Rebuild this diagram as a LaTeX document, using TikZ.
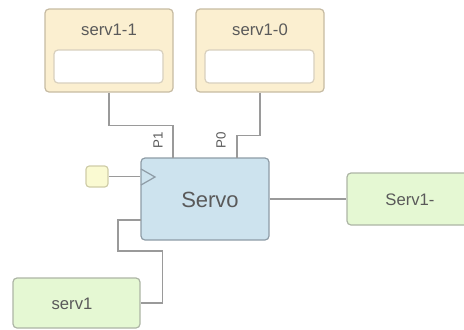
\documentclass[tikz,border=0pt]{standalone}
\usepackage{fontspec}
\setmainfont{Liberation Sans}
\definecolor{tanfill}{HTML}{FBEFD0}
\definecolor{tanborder}{HTML}{C6BBA2}
\definecolor{innerborder}{HTML}{D8D0BE}
\definecolor{servofill}{HTML}{CDE3EE}
\definecolor{servoborder}{HTML}{8E9CA6}
\definecolor{sqfill}{HTML}{FAFAD2}
\definecolor{sqborder}{HTML}{CFCDA8}
\definecolor{greenfill}{HTML}{E5F8D3}
\definecolor{greenborder}{HTML}{ADB5A5}
\definecolor{wire}{HTML}{9A9A9A}
\definecolor{txt}{HTML}{5A5A5A}
\tikzset{
  box/.style={draw, line width=0.9pt, rounded corners=3pt, inner sep=0pt},
  tanbox/.style={box, draw=tanborder, fill=tanfill, minimum width=96pt, minimum height=62.25pt},
  innerbox/.style={box, draw=innerborder, fill=white, minimum width=81.75pt, minimum height=24.75pt},
  servobox/.style={box, draw=servoborder, fill=servofill, minimum width=96pt, minimum height=61.5pt},
  greenbox/.style={box, draw=greenborder, fill=greenfill},
  sqbox/.style={box, rounded corners=2.5pt, draw=sqborder, fill=sqfill, minimum width=16.5pt, minimum height=15.75pt},
  lbl/.style={font=\fontsize{12.5}{14}\selectfont, text=txt, inner sep=0pt},
  portlbl/.style={font=\fontsize{10}{11}\selectfont, text=txt, inner sep=0pt, rotate=90},
  wireline/.style={draw=wire, line width=0.9pt}
}
\begin{document}
\begin{tikzpicture}[x=0.75pt, y=-0.75pt]
\useasboundingbox (0,0) rectangle (464,329);
\begin{scope}
\clip (0,0) rectangle (464,329);
% top boxes
\node[tanbox] (s11) at (109,50.5) {};
\node[innerbox] (s11i) at (108.5,66.5) {};
\node[lbl] (s11t) at (109,30) {serv1-1};
\node[tanbox] (s10) at (260,50.5) {};
\node[innerbox] (s10i) at (259.5,66.5) {};
\node[lbl] (s10t) at (260,30) {serv1-0};
% servo
\node[servobox] (servo) at (205,199) {};
\node[font=\fontsize{16.5}{18}\selectfont, text=txt, inner sep=0pt] (servot) at (210,200) {Servo};
\coordinate (p1) at (173,158);
\coordinate (p0) at (237,158);
\coordinate (q) at (141,220);
% clock square
\node[sqbox] (sq) at (97,176.5) {};
% green boxes
\node[greenbox, minimum width=97.5pt, minimum height=39pt] (s1m) at (412,199) {};
\node[lbl] (s1mt) at (410,200) {Serv1-};
\node[greenbox, minimum width=95.25pt, minimum height=37.5pt] (s1) at (76.5,303) {};
\node[lbl] (s1t) at (72,304) {serv1};
% connectors
\draw[wireline] (s11.south) -- ++(0,33) -| (p1);
\draw[wireline] (s10.south) -- ++(0,43) -| (p0);
\draw[wireline] (sq.east) -- (servo.west |- sq.east);
\draw[wireline, draw=servoborder] (141,169) -- (155,177) -- (141,185);
\draw[wireline] (servo.east) -- (s1m.west);
\draw[wireline] (q) -- ++(-23,0) -- ++(0,31) -| ([xshift=16.5pt]s1.east) -- (s1.east);
% port labels
\node[portlbl] (lp1) at (158,140) {P1};
\node[portlbl] (lp0) at (221,140) {P0};
\end{scope}
\end{tikzpicture}
\end{document}
